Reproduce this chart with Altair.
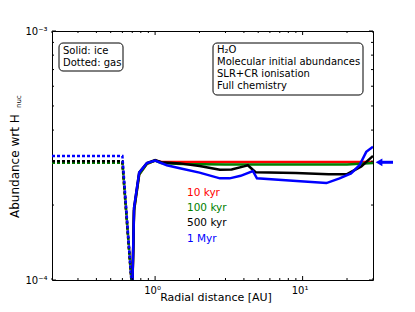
import altair as alt
import pandas as pd

# ---------------- data ----------------
series = ["10 kyr", "100 kyr", "500 kyr", "1 Myr"]
colors = ["#ff0000", "#008000", "#000000", "#0000ff"]

# solid lines: ice abundance
ice_r_10k = [0.69, 0.72, 0.78, 0.88, 1.0, 1.1, 1.5, 3.0, 10.0, 30.0]
ice_v_10k = [6e-5, 1.9e-4, 2.65e-4, 2.93e-4, 3.02e-4, 2.98e-4, 2.98e-4, 2.98e-4, 2.98e-4, 2.98e-4]

ice_r_100k = [0.69, 0.72, 0.78, 0.88, 1.0, 1.1, 1.5, 3.0, 10.0, 20.0, 30.0]
ice_v_100k = [6e-5, 1.9e-4, 2.65e-4, 2.93e-4, 3.02e-4, 2.95e-4, 2.92e-4, 2.91e-4, 2.91e-4, 2.91e-4, 2.95e-4]

ice_r_500k = [0.69, 0.72, 0.78, 0.88, 1.0, 1.1, 1.47, 2.0, 2.75, 3.3, 4.0, 4.25, 4.8, 9.0, 15.0, 20.0, 25.0, 30.0]
ice_v_500k = [6e-5, 1.95e-4, 2.7e-4, 2.95e-4, 3.03e-4, 2.97e-4, 2.94e-4, 2.87e-4, 2.77e-4, 2.78e-4, 2.86e-4, 2.89e-4, 2.71e-4, 2.69e-4, 2.66e-4, 2.66e-4, 2.86e-4, 3.15e-4]

ice_r_1M = [0.69, 0.72, 0.78, 0.88, 1.0, 1.2, 1.47, 2.0, 2.75, 3.2, 3.8, 4.6, 4.9, 9.1, 14.5, 17.8, 21.3, 24.3, 27.0, 30.0]
ice_v_1M = [6e-5, 1.95e-4, 2.7e-4, 2.95e-4, 3.02e-4, 2.89e-4, 2.81e-4, 2.70e-4, 2.56e-4, 2.56e-4, 2.62e-4, 2.74e-4, 2.56e-4, 2.50e-4, 2.45e-4, 2.56e-4, 2.68e-4, 2.89e-4, 3.27e-4, 3.43e-4]

# dotted lines: gas abundance
gas_r = [0.2, 0.6, 0.70, 0.75]
gas_v_10k = [2.96e-4, 2.96e-4, 0.9e-4, 1e-5]
gas_v_100k = [2.96e-4, 2.96e-4, 0.9e-4, 1e-5]
gas_v_500k = [3.0e-4, 3.0e-4, 0.9e-4, 1e-5]
gas_v_1M = [3.15e-4, 3.15e-4, 0.9e-4, 1e-5]

arrow_value = 2.97e-4

x_major = [1, 10]
x_minor = [0.2, 0.3, 0.4, 0.5, 0.6, 0.7, 0.8, 0.9, 2, 3, 4, 5, 6, 7, 8, 9, 20, 30]
y_major = [1e-4, 1e-3]
y_minor = [2e-4, 3e-4, 4e-4, 5e-4, 6e-4, 7e-4, 8e-4, 9e-4]

box_left = ["Solid: ice", "Dotted: gas"]
box_right = ["H₂O", "Molecular initial abundances", "SLR+CR ionisation", "Full chemistry"]

# ---------------- chart ----------------
W, H = 321, 249
FONT = "DejaVu Sans"

xs = alt.Scale(type="log", domain=[0.2, 30], nice=False)
ys = alt.Scale(type="log", domain=[1e-4, 1e-3], nice=False)
xaxis = alt.Axis(values=x_major, labelExpr="datum.value == 1 ? '10⁰' : '10¹'",
                 ticks=False, domain=False, grid=False, title=None,
                 labelFontSize=10, labelFont=FONT, labelColor="black",
                 labelPadding=5, labelOffset=-3)
yaxis = alt.Axis(values=y_major, labelExpr="datum.value < 0.0005 ? '10⁻⁴' : '10⁻³'",
                 ticks=False, domain=False, grid=False, title=None,
                 labelFontSize=10, labelFont=FONT, labelColor="black", labelPadding=5)


def X(field):
    return alt.X(field, type="quantitative", scale=xs, axis=xaxis)


def Y(field):
    return alt.Y(field, type="quantitative", scale=ys, axis=yaxis)


layers = []

ice = [(ice_r_10k, ice_v_10k), (ice_r_100k, ice_v_100k), (ice_r_500k, ice_v_500k), (ice_r_1M, ice_v_1M)]
gas = [gas_v_10k, gas_v_100k, gas_v_500k, gas_v_1M]

for i, name in enumerate(series):
    df = pd.DataFrame({"r": gas_r, "v": gas[i], "i": range(len(gas_r))})
    layers.append(alt.Chart(df).mark_line(color=colors[i], strokeWidth=2.5, strokeDash=[3, 2], clip=True).encode(
        x=X("r"), y=Y("v"), order="i:Q"))
for i, name in enumerate(series):
    r, v = ice[i]
    df = pd.DataFrame({"r": r, "v": v, "i": range(len(r))})
    layers.append(alt.Chart(df).mark_line(color=colors[i], strokeWidth=2.5, clip=True).encode(
        x=X("r"), y=Y("v"), order="i:Q"))

# inward ticks on all four sides
def xticks(vals, L):
    df = pd.DataFrame({"t": vals})
    b = alt.Chart(df).mark_rule(color="black", strokeWidth=1).encode(x=X("t"), y=alt.value(H), y2=alt.value(H - L))
    t = alt.Chart(df).mark_rule(color="black", strokeWidth=1).encode(x=X("t"), y=alt.value(0), y2=alt.value(L))
    return [b, t]


def yticks(vals, L):
    df = pd.DataFrame({"t": vals})
    l = alt.Chart(df).mark_rule(color="black", strokeWidth=1).encode(y=Y("t"), x=alt.value(0), x2=alt.value(L))
    r = alt.Chart(df).mark_rule(color="black", strokeWidth=1).encode(y=Y("t"), x=alt.value(W), x2=alt.value(W - L))
    return [l, r]


layers += xticks(x_major, 4) + xticks(x_minor, 2) + yticks(y_major, 4) + yticks(y_minor, 2)

# legend-like coloured labels
for i, name in enumerate(series):
    layers.append(alt.Chart(pd.DataFrame({"t": [name]})).mark_text(
        align="left", baseline="middle", font=FONT, fontSize=10.5, color=colors[i]).encode(
        text="t:N", x=alt.value(135), y=alt.value(162 + 15.2 * i)))

# text boxes
def box(x1, x2, y1, y2):
    return alt.Chart(pd.DataFrame({"a": [0]})).mark_rect(
        fill="white", stroke="black", strokeWidth=1, cornerRadius=4).encode(
        x=alt.value(x1), x2=alt.value(x2), y=alt.value(y1), y2=alt.value(y2))


layers.append(box(7, 71, 12, 40))
for j, t in enumerate(box_left):
    layers.append(alt.Chart(pd.DataFrame({"t": [t]})).mark_text(
        align="left", baseline="middle", font=FONT, fontSize=10, color="black").encode(
        text="t:N", x=alt.value(11), y=alt.value(20 + 12 * j)))

layers.append(box(161, 311, 12, 64))
for j, t in enumerate(box_right):
    layers.append(alt.Chart(pd.DataFrame({"t": [t]})).mark_text(
        align="left", baseline="middle", font=FONT, fontSize=10, color="black").encode(
        text="t:N", x=alt.value(165), y=alt.value(19 + 12 * j)))

# blue arrow at right edge
adf = pd.DataFrame({"v": [arrow_value]})
layers.append(alt.Chart(adf).mark_rule(color="#0000ff", strokeWidth=3).encode(
    x=alt.value(328), x2=alt.value(341), y=Y("v")))
layers.append(alt.Chart(adf).mark_point(shape="triangle-left", filled=True, color="#0000ff", size=60, opacity=1).encode(
    x=alt.value(327), y=Y("v")))

# axis titles
layers.append(alt.Chart(pd.DataFrame({"t": ["Radial distance [AU]"]})).mark_text(
    align="center", baseline="middle", font=FONT, fontSize=11, color="black").encode(
    text="t:N", x=alt.value(164), y=alt.value(267)))
layers.append(alt.Chart(pd.DataFrame({"t": ["Abundance wrt H"]})).mark_text(
    align="left", baseline="middle", font=FONT, fontSize=12, color="black", angle=270).encode(
    text="t:N", x=alt.value(-37), y=alt.value(187)))
layers.append(alt.Chart(pd.DataFrame({"t": ["nuc"]})).mark_text(
    align="left", baseline="middle", font=FONT, fontSize=7, color="black", angle=270).encode(
    text="t:N", x=alt.value(-33), y=alt.value(77)))

chart = alt.layer(*layers).properties(
    width=W, height=H, autosize="none",
    padding={"left": 44, "top": 23, "right": 34, "bottom": 24},
).configure_view(stroke="black", strokeWidth=1)

chart.save("out.html", embed_options={"renderer": "svg", "actions": False})
